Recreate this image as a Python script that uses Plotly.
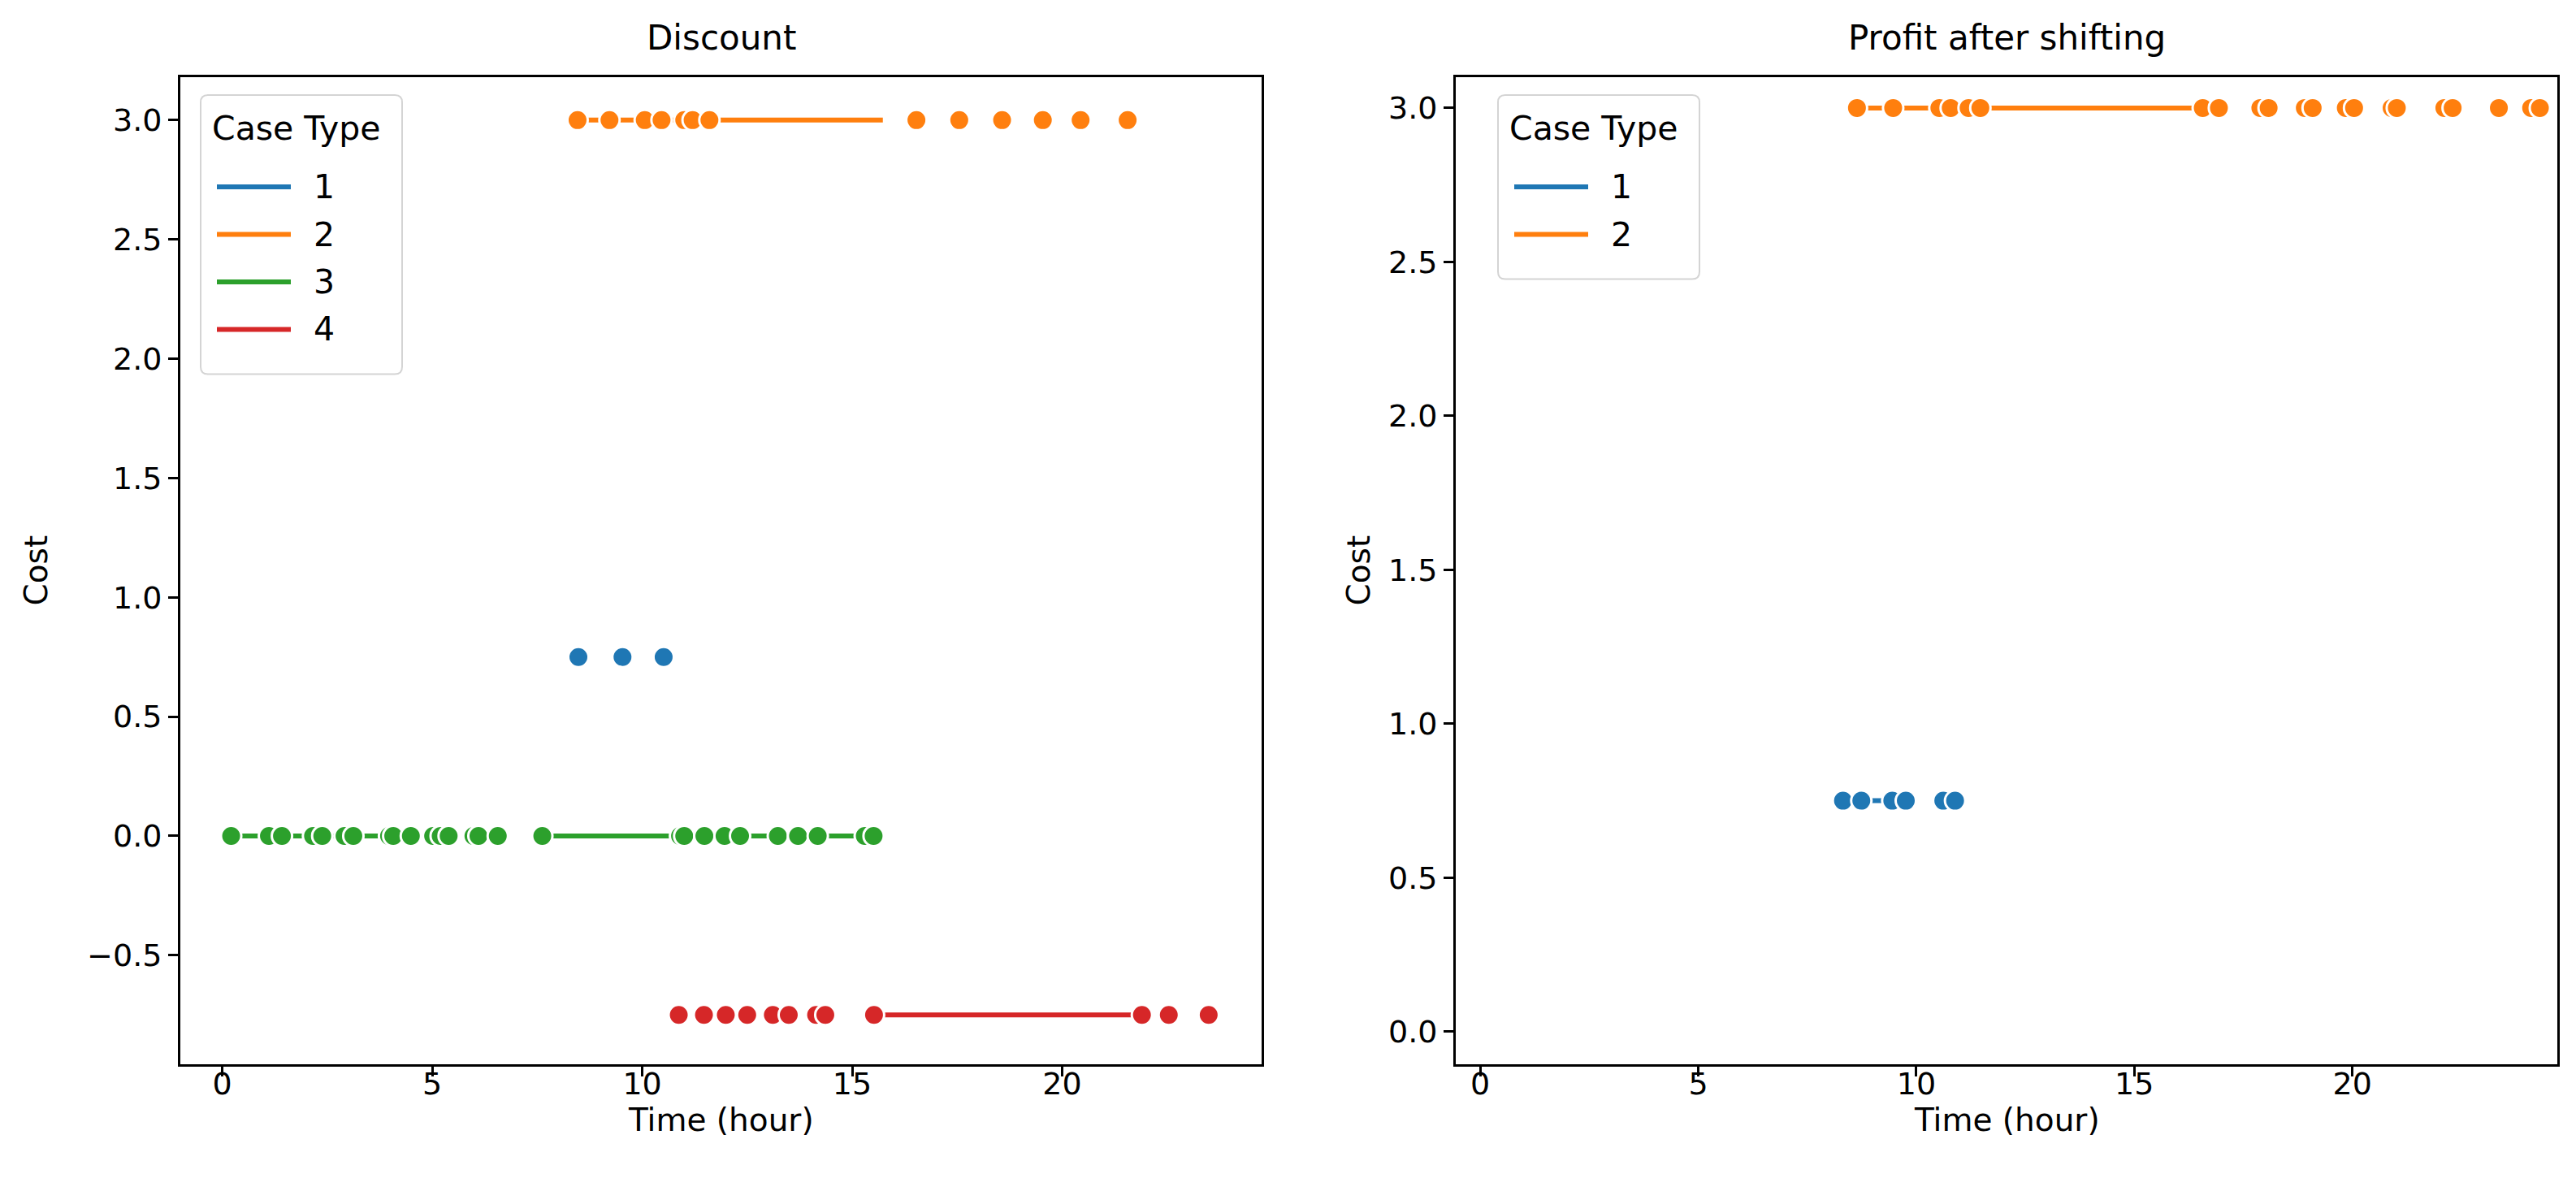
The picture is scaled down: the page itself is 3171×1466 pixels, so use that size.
import plotly.graph_objects as go

# ---------------- data (hours, cost) ----------------
case_levels = ["1", "2", "3", "4"]
case_colors = ["#1f77b4", "#ff7f0e", "#2ca02c", "#d62728"]
case_costs = [0.75, 3.0, 0.0, -0.75]

# Left panel: "Discount"
disc_case1_x = [8.48, 9.53, 10.51]
disc_case2_x = [8.46, 9.22, 10.06, 10.46, 11.0, 11.2, 11.6, 16.53, 17.55, 18.57, 19.54, 20.44, 21.56]
disc_case3_x = [0.21, 1.11, 1.42, 2.16, 2.38, 2.91, 3.12, 3.97, 4.07, 4.49, 5.02, 5.2, 5.39,
                5.98, 6.1, 6.56, 7.62, 10.9, 11.0, 11.48, 11.96, 12.33, 13.23, 13.71, 14.18, 15.3, 15.51]
disc_case4_x = [10.87, 11.47, 11.99, 12.5, 13.11, 13.49, 14.14, 14.36, 15.52, 21.9, 22.54, 23.49]
disc_case1_lines = []
disc_case2_lines = [[8.46, 15.73]]
disc_case3_lines = [[0.21, 4.49], [7.62, 15.51]]
disc_case4_lines = [[15.52, 21.77]]

# Right panel: "Profit after shifting"
shift_case1_x = [8.32, 8.74, 9.45, 9.76, 10.62, 10.89]
shift_case2_x = [8.64, 9.47, 10.53, 10.79, 11.2, 11.47, 16.57, 16.94, 17.89, 18.08, 18.91, 19.09,
                 19.85, 20.04, 20.9, 21.02, 22.11, 22.3, 23.36, 24.1, 24.3]
shift_case1_lines = [[8.74, 9.45]]
shift_case2_lines = [[8.64, 16.38]]

x_ticks = [0, 5, 10, 15, 20]
disc_y_ticks = [-0.5, 0.0, 0.5, 1.0, 1.5, 2.0, 2.5, 3.0]
shift_y_ticks = [0.0, 0.5, 1.0, 1.5, 2.0, 2.5, 3.0]

titles = ["Discount", "Profit after shifting"]
x_label = "Time (hour)"
y_label = "Cost"
legend_title = "Case Type"
disc_legend_cases = [0, 1, 2, 3]
shift_legend_cases = [0, 1]

# ---------------- figure ----------------
W, H = 3171, 1466
FONT = "DejaVu Sans"
fig = go.Figure()


def seg_xy(segs, y):
    xs, ys = [], []
    for a, b in segs:
        xs += [a, b, None]
        ys += [y, y, None]
    return xs, ys


def add_series(xs, segs, idx, xa, ya):
    color = case_colors[idx]
    y = case_costs[idx]
    if segs:
        sx, sy = seg_xy(segs, y)
        fig.add_trace(go.Scatter(x=sx, y=sy, mode="lines", xaxis=xa, yaxis=ya,
                                 line=dict(color=color, width=6), showlegend=False,
                                 hoverinfo="skip"))
    fig.add_trace(go.Scatter(x=xs, y=[y] * len(xs), mode="markers", xaxis=xa, yaxis=ya,
                             marker=dict(color=color, size=25, line=dict(color="white", width=3)),
                             name=case_levels[idx], showlegend=False))


add_series(disc_case1_x, disc_case1_lines, 0, "x", "y")
add_series(disc_case2_x, disc_case2_lines, 1, "x", "y")
add_series(disc_case3_x, disc_case3_lines, 2, "x", "y")
add_series(disc_case4_x, disc_case4_lines, 3, "x", "y")
add_series(shift_case1_x, shift_case1_lines, 0, "x2", "y2")
add_series(shift_case2_x, shift_case2_lines, 1, "x2", "y2")

# axes geometry (pixels of the full image)
L_x0, L_x1 = 222, 1553
R_x0, R_x1 = 1792, 3148
Y_top, Y_bot = 95, 1310


def px(x):
    return x / W


def py(y):
    return 1 - y / H


def fmt(v):
    return f"{v:.1f}".replace("-", "\u2212")


axis_common = dict(showline=True, mirror=True, linecolor="black", linewidth=3,
                   ticks="outside", ticklen=12, tickwidth=3, tickcolor="black",
                   showgrid=False, zeroline=False,
                   tickfont=dict(family=FONT, size=38, color="black"))

fig.update_layout(
    xaxis=dict(domain=[px(L_x0), px(L_x1)], range=[-1.0, 24.75], anchor="y",
               tickvals=x_ticks, ticktext=[str(t) for t in x_ticks], ticklabelstandoff=-24,
               **axis_common),
    yaxis=dict(domain=[py(Y_bot), py(Y_top)], range=[-0.957, 3.18], anchor="x",
               tickvals=disc_y_ticks, ticktext=[fmt(t) for t in disc_y_ticks], **axis_common),
    xaxis2=dict(domain=[px(R_x0), px(R_x1)], range=[-0.56, 24.7], anchor="y2",
                tickvals=x_ticks, ticktext=[str(t) for t in x_ticks], ticklabelstandoff=-24,
                **axis_common),
    yaxis2=dict(domain=[py(Y_bot), py(Y_top)], range=[-0.106, 3.10], anchor="x2",
                tickvals=shift_y_ticks, ticktext=[fmt(t) for t in shift_y_ticks], **axis_common),
)

annotations = []
shapes = []
for t, (a, b) in zip(titles, [(L_x0, L_x1), (R_x0, R_x1)]):
    annotations.append(dict(text=t, x=px((a + b) / 2), y=py(Y_top - 22), xref="paper", yref="paper",
                            xanchor="center", yanchor="bottom", showarrow=False,
                            font=dict(family=FONT, size=42, color="black")))
    annotations.append(dict(text=x_label, x=px((a + b) / 2), y=py(1378), xref="paper", yref="paper",
                            xanchor="center", yanchor="middle", showarrow=False,
                            font=dict(family=FONT, size=39, color="black")))
for xc in [44, 1672]:
    annotations.append(dict(text=y_label, x=px(xc), y=py((Y_top + Y_bot) / 2), xref="paper",
                            yref="paper", xanchor="center", yanchor="middle", showarrow=False,
                            textangle=-90, font=dict(family=FONT, size=39, color="black")))


# legends (seaborn style: rounded light-grey frame, line samples)
def rounded_rect(x0, y0, x1, y1, r):
    X = lambda v: px(v)
    Y = lambda v: py(v)
    return (f"M {X(x0 + r)},{Y(y0)} L {X(x1 - r)},{Y(y0)} Q {X(x1)},{Y(y0)} {X(x1)},{Y(y0 + r)} "
            f"L {X(x1)},{Y(y1 - r)} Q {X(x1)},{Y(y1)} {X(x1 - r)},{Y(y1)} "
            f"L {X(x0 + r)},{Y(y1)} Q {X(x0)},{Y(y1)} {X(x0)},{Y(y1 - r)} "
            f"L {X(x0)},{Y(y0 + r)} Q {X(x0)},{Y(y0)} {X(x0 + r)},{Y(y0)} Z")


def add_legend(x0, cases):
    y0 = 117
    row = 58.5
    first = 230
    y1 = first + row * (len(cases) - 1) + 55
    x1 = x0 + 248
    shapes.append(dict(type="path", path=rounded_rect(x0, y0, x1, y1, 9), xref="paper", yref="paper",
                       line=dict(color="#d4d4d4", width=2), fillcolor="rgba(255,255,255,0.85)",
                       layer="above"))
    annotations.append(dict(text=legend_title, x=px(x0 + 12), y=py(158), xref="paper", yref="paper",
                            xanchor="left", yanchor="middle", showarrow=False,
                            font=dict(family=FONT, size=41, color="black")))
    for k, c in enumerate(cases):
        yy = first + row * k
        shapes.append(dict(type="line", x0=px(x0 + 20), x1=px(x0 + 111), y0=py(yy), y1=py(yy),
                           xref="paper", yref="paper", layer="above",
                           line=dict(color=case_colors[c], width=6)))
        annotations.append(dict(text=case_levels[c], x=px(x0 + 137), y=py(yy), xref="paper",
                                yref="paper", xanchor="left", yanchor="middle", showarrow=False,
                                font=dict(family=FONT, size=41, color="black")))


add_legend(247, disc_legend_cases)
add_legend(1844, shift_legend_cases)

fig.update_layout(annotations=annotations, shapes=shapes, width=W, height=H,
                  margin=dict(l=0, r=0, t=0, b=0), paper_bgcolor="white", plot_bgcolor="white",
                  showlegend=False)

fig.write_html("out.html", config={"displayModeBar": False})

# remove the default page margin so the figure sits at the window origin
with open("out.html", "r", encoding="utf-8") as f:
    html = f.read()
html = html.replace("<head>", "<head><style>html,body{margin:0;padding:0;overflow:hidden;}</style>", 1)
with open("out.html", "w", encoding="utf-8") as f:
    f.write(html)
